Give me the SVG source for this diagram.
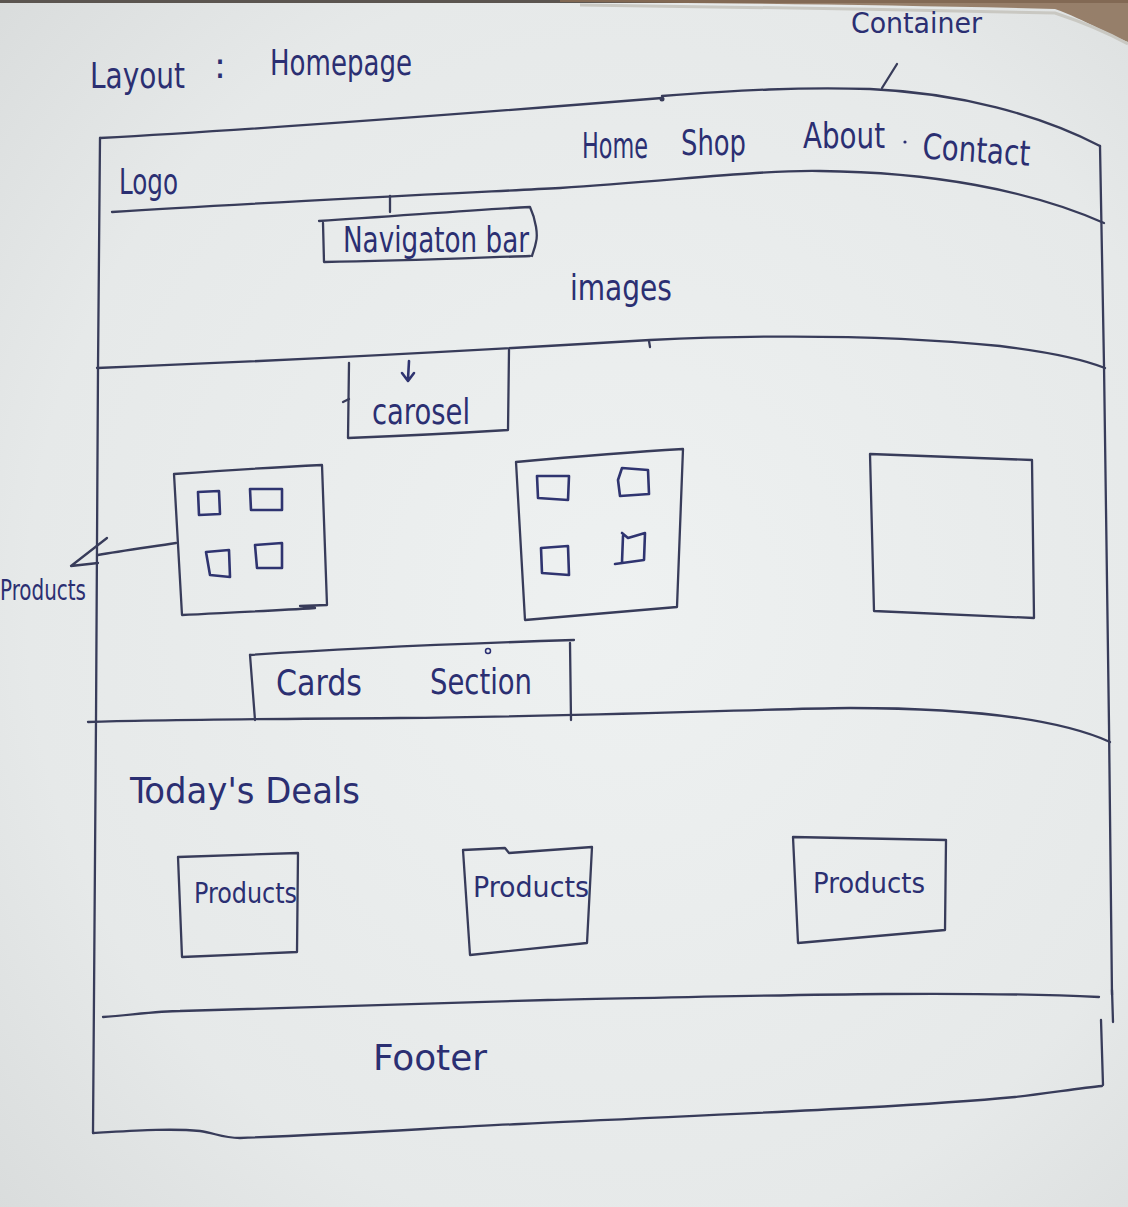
<svg xmlns="http://www.w3.org/2000/svg" width="1128" height="1207" viewBox="0 0 1128 1207">
  <defs>
    <radialGradient id="paper" cx="55%" cy="50%" r="75%">
      <stop offset="0" stop-color="#eef1f1"/>
      <stop offset="0.7" stop-color="#e6e9e9"/>
      <stop offset="1" stop-color="#d9dcdc"/>
    </radialGradient>
    <style>
      .ink { fill: none; stroke: #383c5a; stroke-width: 2.3; stroke-linecap: round; stroke-linejoin: round; }
      .pen { fill: none; stroke: #2f3470; stroke-width: 2.6; stroke-linecap: round; stroke-linejoin: round; }
      .txt { fill: #2b2f72; font-family: "Liberation Sans Narrow", "DejaVu Sans Condensed", "Liberation Sans", sans-serif; font-size: 35px; }
      .sm { font-size: 28px; }
    </style>
  </defs>

  <!-- notebook page -->
  <rect width="1128" height="1207" fill="url(#paper)"/>
  <path d="M0 0 H1128 V3 H0 Z" fill="#5b5550"/>
  <path d="M560 0 H1128 V42 C1112 36 1085 20 1055 9 C900 5 720 3 560 2 Z" fill="#8a6d55" opacity="0.85"/>
  <path d="M580 5 C720 7 900 9 1055 13 C1088 24 1110 34 1128 44" fill="none" stroke="#c9c8c2" stroke-width="3"/>

  <!-- page title -->
  <g id="title">
    <text class="txt" x="90" y="88" textLength="95" lengthAdjust="spacingAndGlyphs">Layout</text>
    <text class="txt" x="214" y="78" textLength="12" lengthAdjust="spacingAndGlyphs">:</text>
    <text class="txt" x="270" y="75" textLength="142" lengthAdjust="spacingAndGlyphs">Homepage</text>
  </g>

  <!-- outer container frame -->
  <g id="container">
    <path class="ink" d="M100 138 C250 130 450 115 662 98"/>
    <circle cx="662" cy="99" r="2.5" fill="#383c5a"/>
    <path class="ink" d="M662 96 C740 90 800 87 870 89 C960 93 1040 115 1100 146"/>
    <path class="ink" d="M100 138 L98 368 L96 720 L93 1133"/>
    <path class="ink" d="M1100 146 L1104 365 L1109 725 L1112 995"/>
    <path class="ink" d="M1112 990 L1113 1022"/>
    <path class="ink" d="M1101 1020 L1103 1085"/>
    <path class="ink" d="M93 1133 C130 1131 170 1128 200 1131 C215 1133 222 1138 240 1138 C350 1134 450 1127 520 1124 C700 1115 900 1108 1015 1097 C1050 1093 1080 1088 1102 1086"/>
    <text class="txt sm" x="851" y="33" textLength="131" lengthAdjust="spacingAndGlyphs">Container</text>
  </g>

  <!-- header bar -->
  <g id="header">
    <path class="ink" d="M112 212 C250 203 420 195 560 188 C680 180 760 170 820 171 C930 172 1030 190 1104 223"/>
    <text class="txt" x="119" y="194" textLength="59" lengthAdjust="spacingAndGlyphs">Logo</text>
    <text class="txt" x="582" y="158" textLength="66" lengthAdjust="spacingAndGlyphs">Home</text>
    <text class="txt" x="681" y="155" textLength="65" lengthAdjust="spacingAndGlyphs">Shop</text>
    <text class="txt" x="803" y="148" textLength="82" lengthAdjust="spacingAndGlyphs">About</text>
    <circle cx="905" cy="142" r="1.6" fill="#2b2f72"/>
    <text class="txt" x="922" y="162" textLength="108" lengthAdjust="spacingAndGlyphs" transform="rotate(4 976 155)">Contact</text>
  </g>

  <!-- navigation bar label box -->
  <g id="navbar">
    <path class="ink" d="M319 221 C400 216 470 210 530 207 C536 220 538 235 536 242 C535 248 533 252 532 256"/>
    <path class="ink" d="M323 223 L324 262 C400 261 470 258 530 256"/>
    <text class="txt" x="343" y="252" textLength="186" lengthAdjust="spacingAndGlyphs">Navigaton bar</text>
  </g>

  <!-- hero image area -->
  <g id="hero">
    <text class="txt" x="570" y="300" textLength="102" lengthAdjust="spacingAndGlyphs">images</text>
    <path class="ink" d="M97 368 C250 362 450 352 650 340 C780 334 900 336 1000 346 C1050 352 1085 360 1105 368"/>
    <path class="ink" d="M649 341 L650 347"/>
  </g>

  <!-- carousel label box -->
  <g id="carousel">
    <path class="ink" d="M349 363 L348 438 C400 436 460 433 508 430 L509 350"/>
    <path class="ink" d="M343 402 L349 399"/>
    <path class="pen" d="M409 361 L408 379 M402 373 L408 381 L414 373"/>
    <text class="txt" x="372" y="424" textLength="98" lengthAdjust="spacingAndGlyphs">carosel</text>
  </g>

  <!-- product grid card 1 -->
  <g id="card-1">
    <path class="ink" d="M174 474 C230 470 280 467 322 465 L327 605 L300 606 L315 608 C270 611 220 613 182 615 Z"/>
    <path class="pen" d="M198 492 L219 491 L220 514 L199 515 Z"/>
    <path class="pen" d="M250 489 L282 489 L282 510 L251 510 Z"/>
    <path class="pen" d="M206 552 L229 550 L230 577 L210 575 Z"/>
    <path class="pen" d="M255 545 L282 543 L282 568 L257 568 Z"/>
  </g>

  <!-- product grid card 2 -->
  <g id="card-2">
    <path class="ink" d="M516 462 C570 457 630 452 683 449 L677 607 C620 612 570 616 525 620 Z"/>
    <path class="pen" d="M537 476 L569 476 L568 500 L538 498 Z"/>
    <path class="pen" d="M618 480 L622 468 L648 470 L649 494 L620 496 Z"/>
    <path class="pen" d="M541 548 L568 546 L569 575 L542 573 Z"/>
    <path class="pen" d="M622 533 L628 538 L645 533 L644 560 L615 564 M623 536 L622 562"/>
  </g>

  <!-- empty card 3 -->
  <g id="card-3">
    <path class="ink" d="M870 454 L1032 460 L1034 618 L874 611 Z"/>
  </g>

  <!-- cards section label box -->
  <g id="cards-section">
    <path class="ink" d="M250 655 C350 648 480 643 574 640"/>
    <path class="ink" d="M250 655 L255 720"/>
    <path class="ink" d="M570 643 L571 720"/>
    <text class="txt" x="276" y="695" textLength="86" lengthAdjust="spacingAndGlyphs">Cards</text>
    <text class="txt" x="430" y="694" textLength="102" lengthAdjust="spacingAndGlyphs">Section</text>
    <circle cx="488" cy="651" r="2.5" fill="none" stroke="#2b2f72" stroke-width="1.5"/>
    <path class="ink" d="M88 722 C150 720 250 719 400 718 C600 716 750 709 850 708 C950 708 1050 715 1110 742"/>
  </g>

  <!-- today's deals -->
  <g id="deals">
    <text class="txt" x="130" y="803" textLength="230" lengthAdjust="spacingAndGlyphs">Today's Deals</text>
  </g>
  <g id="deal-1">
    <path class="ink" d="M178 857 L298 853 L297 952 L182 957 Z"/>
    <text class="txt sm" x="194" y="903" textLength="103" lengthAdjust="spacingAndGlyphs">Products</text>
  </g>
  <g id="deal-2">
    <path class="ink" d="M463 850 L505 848 L509 853 L592 847 L587 943 L470 955 Z"/>
    <text class="txt sm" x="473" y="897" textLength="116" lengthAdjust="spacingAndGlyphs">Products</text>
  </g>
  <g id="deal-3">
    <path class="ink" d="M793 837 L946 840 L945 930 L798 943 Z"/>
    <text class="txt sm" x="813" y="893" textLength="112" lengthAdjust="spacingAndGlyphs">Products</text>
  </g>

  <!-- footer -->
  <g id="footer">
    <path class="ink" d="M103 1017 C130 1015 160 1011 180 1011 C300 1008 420 1004 548 1000 C750 996 950 990 1099 997"/>
    <text class="txt" x="373" y="1070" textLength="114" lengthAdjust="spacingAndGlyphs">Footer</text>
  </g>

  <!-- pointer lines -->
  <g id="connectors">
    <path class="ink" d="M897 64 L882 88"/>
    <path class="ink" d="M390 196 L390 212"/>
    <path class="ink" d="M176 543 C150 547 120 551 98 555"/>
    <path class="ink" d="M107 538 L71 566 L98 563"/>
    <text class="txt sm" x="0" y="600" textLength="86" lengthAdjust="spacingAndGlyphs">Products</text>
  </g>
</svg>
